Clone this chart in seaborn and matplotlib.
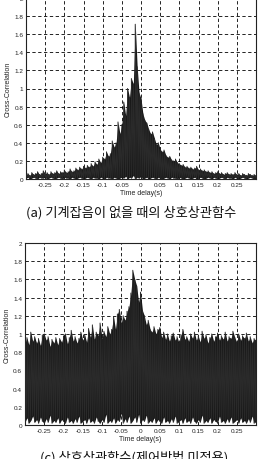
import numpy as np
import pandas as pd
import matplotlib
matplotlib.use("Agg")
import matplotlib.pyplot as plt
import seaborn as sns

# ---- data (lag grid -0.3 .. 0.3, step 0.005) ----
peaks_a = [0.05, 0.06, 0.04, 0.07, 0.05, 0.06, 0.08, 0.05, 0.06, 0.09,
           0.06, 0.07, 0.05, 0.08, 0.06, 0.07, 0.09, 0.06, 0.08, 0.07,
           0.10, 0.07, 0.08, 0.11, 0.08, 0.09, 0.12, 0.10, 0.13, 0.11,
           0.14, 0.12, 0.15, 0.13, 0.17, 0.14, 0.19, 0.16, 0.22, 0.18,
           0.24, 0.22, 0.30, 0.25, 0.28, 0.42, 0.35, 0.40, 0.63, 0.50,
           0.60, 0.85, 0.70, 1.00, 0.90, 1.11, 1.05, 1.71, 1.24, 0.95,
           0.89, 0.72, 0.65, 0.62, 0.55, 0.50, 0.52, 0.45, 0.38, 0.40,
           0.33, 0.30, 0.32, 0.26, 0.24, 0.25, 0.21, 0.20, 0.22, 0.18,
           0.17, 0.15, 0.16, 0.13, 0.14, 0.12, 0.13, 0.11, 0.12, 0.14,
           0.10, 0.11, 0.09, 0.10, 0.08, 0.09, 0.07, 0.08, 0.06, 0.07,
           0.08, 0.06, 0.07, 0.05, 0.06, 0.07, 0.05, 0.06, 0.05, 0.07,
           0.05, 0.06, 0.04, 0.06, 0.05, 0.04, 0.06, 0.05, 0.04, 0.05,
           0.04]
troughs_a = [0.01, 0.02, 0.00, 0.01, 0.02, 0.01, 0.00, 0.02, 0.01, 0.01,
             0.02, 0.00, 0.01, 0.02, 0.01, 0.00, 0.01, 0.02, 0.01, 0.00,
             0.02, 0.01, 0.01, 0.00, 0.02, 0.01, 0.00, 0.01, 0.02, 0.01,
             0.00, 0.01, 0.02, 0.01, 0.00, 0.02, 0.01, 0.01, 0.00, 0.02,
             0.01, 0.00, 0.02, 0.01, 0.01, 0.00, 0.02, 0.01, 0.00, 0.01,
             0.02, 0.01, 0.03, 0.00, 0.02, 0.01, 0.04, 0.00, 0.02, 0.01,
             0.03, 0.00, 0.01, 0.02, 0.00, 0.01, 0.02, 0.01, 0.00, 0.02,
             0.01, 0.00, 0.01, 0.02, 0.01, 0.00, 0.02, 0.01, 0.01, 0.00,
             0.02, 0.01, 0.00, 0.01, 0.02, 0.01, 0.00, 0.01, 0.02, 0.00,
             0.01, 0.02, 0.01, 0.00, 0.01, 0.02, 0.01, 0.00, 0.02, 0.01,
             0.00, 0.01, 0.02, 0.01, 0.00, 0.02, 0.01, 0.01, 0.00, 0.02,
             0.01, 0.00, 0.01, 0.02, 0.01, 0.00, 0.01, 0.02, 0.01, 0.00,
             0.01]

peaks_c = [0.90, 0.96, 0.88, 1.02, 0.92, 0.97, 0.90, 0.95, 0.87, 0.99,
           1.00, 0.93, 0.97, 0.86, 0.94, 0.90, 0.96, 0.88, 0.95, 0.91,
           0.98, 1.00, 0.89, 0.96, 1.04, 0.92, 0.97, 0.90, 0.95, 1.02,
           0.93, 0.99, 0.91, 1.06, 0.96, 1.10, 0.94, 1.02, 0.98, 1.12,
           0.95, 1.03, 0.97, 1.08, 1.00, 1.05, 1.19, 1.05, 1.22, 1.27,
           1.12, 1.20, 1.15, 1.25, 1.30, 1.45, 1.70, 1.60, 1.53, 1.35,
           1.46, 1.26, 1.20, 1.10, 1.15, 1.05, 1.02, 1.08, 1.00, 1.05,
           1.07, 0.96, 1.02, 0.94, 1.00, 0.92, 0.98, 1.01, 0.93, 0.97,
           0.90, 0.99, 1.05, 0.94, 0.97, 0.92, 1.00, 0.95, 1.02, 0.93,
           0.98, 0.91, 1.03, 0.95, 0.99, 0.90, 0.96, 1.00, 0.92, 0.97,
           1.01, 0.93, 0.98, 0.94, 1.02, 0.92, 0.97, 0.95, 1.03, 0.96,
           0.91, 1.00, 0.93, 0.98, 0.95, 1.01, 0.92, 0.97, 0.90, 0.95,
           0.93]
troughs_c = [0.03, 0.08, 0.02, 0.05, 0.10, 0.03, 0.06, 0.02, 0.09, 0.04,
             0.02, 0.07, 0.03, 0.11, 0.02, 0.05, 0.03, 0.08, 0.02, 0.06,
             0.04, 0.02, 0.09, 0.03, 0.05, 0.02, 0.07, 0.03, 0.10, 0.02,
             0.04, 0.06, 0.02, 0.08, 0.03, 0.05, 0.02, 0.09, 0.04, 0.02,
             0.06, 0.03, 0.12, 0.02, 0.05, 0.03, 0.08, 0.02, 0.06, 0.04,
             0.13, 0.02, 0.07, 0.03, 0.10, 0.02, 0.05, 0.09, 0.03, 0.12,
             0.02, 0.06, 0.04, 0.11, 0.02, 0.05, 0.03, 0.08, 0.02, 0.06,
             0.04, 0.02, 0.09, 0.03, 0.05, 0.02, 0.07, 0.03, 0.10, 0.02,
             0.04, 0.06, 0.02, 0.08, 0.03, 0.05, 0.02, 0.09, 0.04, 0.02,
             0.06, 0.03, 0.11, 0.02, 0.05, 0.03, 0.08, 0.02, 0.06, 0.04,
             0.02, 0.10, 0.03, 0.05, 0.02, 0.07, 0.03, 0.09, 0.02, 0.04,
             0.06, 0.02, 0.08, 0.03, 0.05, 0.02, 0.07, 0.03, 0.10, 0.02,
             0.04]

x_ticks = [-0.25, -0.2, -0.15, -0.1, -0.05, 0, 0.05, 0.1, 0.15, 0.2, 0.25]
x_tick_labels = ["-0.25", "-0.2", "-0.15", "-0.1", "-0.05", "0", "0.05", "0.1", "0.15", "0.2", "0.25"]
y_ticks = [0, 0.2, 0.4, 0.6, 0.8, 1, 1.2, 1.4, 1.6, 1.8, 2]
y_tick_labels = ["0", "0.2", "0.4", "0.6", "0.8", "1", "1.2", "1.4", "1.6", "1.8", "2"]
x_label = "Time delay(s)"
y_label = "Cross-Correlation"
caption_a = "(a) 기계잡음이 없을 때의 상호상관함수"
caption_c = "(c) 상호상관함수(제어방법 미적용)"


def zigzag(peaks, troughs):
    n = len(peaks)
    lags = np.linspace(-0.3, 0.3, n)
    xs, ys = [], []
    for i in range(n):
        xs.append(lags[i]); ys.append(troughs[i])
        xs.append(lags[i]); ys.append(peaks[i])
    return lags, pd.DataFrame({"lag": xs, "corr": ys})


sns.set_theme(style="white")
plt.rcParams["font.family"] = ["Liberation Sans", "DejaVu Sans"]

fig = plt.figure(figsize=(2.62, 4.60), dpi=100)
ax_a = fig.add_axes([26 / 262, 1 - 180 / 460, 230 / 262, 181 / 460])
ax_c = fig.add_axes([25 / 262, 1 - 426 / 460, 231 / 262, 182 / 460])

for ax, (pk, tr) in ((ax_a, (peaks_a, troughs_a)), (ax_c, (peaks_c, troughs_c))):
    lags, df = zigzag(pk, tr)
    ax.fill_between(lags, tr, pk, color="#151515", linewidth=0, zorder=2)
    sns.lineplot(data=df, x="lag", y="corr", sort=False, estimator=None,
                 color="#2a2a2a", linewidth=0.7, ax=ax, zorder=3)
    ax.set_xlim(-0.3, 0.3)
    ax.set_ylim(0, 2)
    ax.set_xticks(x_ticks)
    ax.set_xticklabels(x_tick_labels)
    ax.set_yticks(y_ticks)
    ax.set_yticklabels(y_tick_labels)
    ax.grid(True, color="black", linestyle=(0, (4, 3)), linewidth=0.6)
    ax.set_axisbelow(True)
    ax.tick_params(direction="in", length=2, width=0.5, labelsize=4.6,
                   pad=2, colors="#222222", bottom=True, left=True)
    for s in ax.spines.values():
        s.set_color("#222222")
        s.set_linewidth(0.8)
        s.set_visible(True)
    ax.set_xlabel(x_label, fontsize=5, labelpad=1.5, color="#222222")
    ax.set_ylabel(y_label, fontsize=5, labelpad=2, color="#222222")

fig.text(131 / 262, 1 - 213 / 460, caption_a, ha="center", va="center",
         fontsize=9.5, family=["Noto Sans CJK KR", "DejaVu Sans"], color="#111111")
fig.text(134 / 262, 1 - 458 / 460, caption_c, ha="center", va="center",
         fontsize=9.5, family=["Noto Sans CJK KR", "DejaVu Sans"], color="#111111")

fig.savefig("out.png", dpi=100)
